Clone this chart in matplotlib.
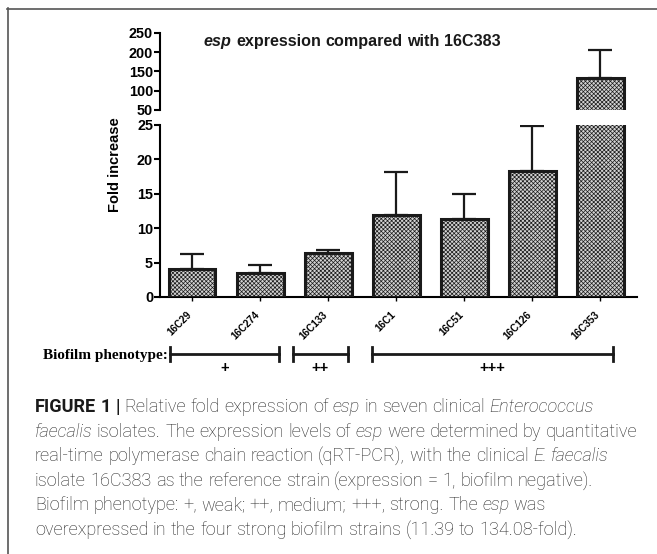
import numpy as np
import matplotlib
matplotlib.use("Agg")
import matplotlib.pyplot as plt
from matplotlib.lines import Line2D
from matplotlib.transforms import offset_copy

# data
strains = ["16C29", "16C274", "16C133", "16C1", "16C51", "16C126", "16C353"]
fold = [4.03, 3.55, 6.35, 11.85, 11.39, 18.25, 134.08]
err_up = [2.25, 1.05, 0.55, 6.35, 3.6, 6.65, 72.5]
groups = ["+", "++", "+++"]

W, H = 657, 554
plt.rcParams["hatch.color"] = "#404040"
plt.rcParams["hatch.linewidth"] = 0.5
fig = plt.figure(figsize=(W / 100, H / 100), dpi=100)
SANS = "Liberation Sans"


def fx(px):
    return px / W


def fy(py):
    return 1 - py / H


# two stacked axes make the broken y axis
ax_top = fig.add_axes([fx(160), fy(110), 477 / W, 77 / H])
ax_bot = fig.add_axes([fx(160), fy(297), 477 / W, 172 / H])

x = np.arange(len(strains))
for ax in (ax_top, ax_bot):
    ax.bar(x, fold, width=0.69, facecolor="#d2d2d2", edgecolor="#1a1a1a",
           linewidth=2.2, hatch="xxxxxxxx", zorder=3)
    ax.errorbar(x, fold, yerr=[np.zeros(len(fold)), err_up], fmt="none",
                ecolor="#1a1a1a", elinewidth=1.6, capsize=8.6, capthick=1.6,
                zorder=2)
    ax.set_xlim(-0.47, 6.54)
    for s in ("top", "right"):
        ax.spines[s].set_visible(False)
    ax.spines["left"].set_linewidth(1.5)
    ax.tick_params(axis="y", length=4, width=1.5, pad=1, labelsize=10.4)

ax_top.set_ylim(50, 250)
ax_top.set_yticks([50, 100, 150, 200, 250])
ax_top.spines["bottom"].set_visible(False)
ax_top.set_xticks([])

ax_bot.set_ylim(0, 25)
ax_bot.set_yticks([0, 5, 10, 15, 20, 25])
ax_bot.spines["bottom"].set_linewidth(1.5)
ax_bot.set_xticks(x)
ax_bot.set_xticklabels([])
ax_bot.tick_params(axis="x", length=3, width=1)

for ax in (ax_top, ax_bot):
    for lab in ax.get_yticklabels():
        lab.set_fontweight("bold")
        lab.set_family(SANS)

# rotated strain names
lab_tr = offset_copy(ax_bot.get_xaxis_transform(), fig=fig, x=-2, y=-16, units="dots")
for xi, name in zip(x, strains):
    ax_bot.text(xi, 0, name, transform=lab_tr, rotation=45, rotation_mode="anchor",
                ha="right", va="center", fontsize=7.2, fontweight="bold", family=SANS)

fig.text(fx(115), fy(165), "Fold increase", rotation=90, ha="center", va="center",
         fontsize=10.5, fontweight="bold", family=SANS)

renderer = fig.canvas.get_renderer()


def space_width(**kw):
    a = fig.text(0, 0, "a a", **kw)
    b = fig.text(0, 0, "aa", **kw)
    w = a.get_window_extent(renderer).width - b.get_window_extent(renderer).width
    a.remove()
    b.remove()
    return w


def draw_words(x0, ybase, line, base, styles):
    xp = x0
    for word in line.split(" "):
        kw = dict(base)
        if word.startswith("_") and word.endswith("_") and len(word) > 1:
            word = word[1:-1]
            kw.update(styles["i"])
        elif word.startswith("*") and word.endswith("*") and len(word) > 1:
            word = word[1:-1]
            kw.update(styles["b"])
        t = fig.text(fx(xp), fy(ybase), word, va="baseline", ha="left", **kw)
        xp += t.get_window_extent(renderer).width + space_width(**kw)


# chart title
draw_words(204, 46, "_esp_ expression compared with 16C383",
           dict(family=SANS, fontsize=11.6, fontweight="bold", color="#1a1a1a"),
           {"i": dict(style="italic"), "b": {}})

# biofilm phenotype brackets
fig.text(fx(43), fy(356), "Biofilm phenotype:", ha="left", va="center",
         family="Liberation Serif", fontweight="bold", fontsize=11)
spans = [(170, 279), (293, 348), (372, 613)]
for (x0, x1), g in zip(spans, groups):
    fig.add_artist(Line2D([fx(x0), fx(x1)], [fy(354), fy(354)], color="#1a1a1a", lw=2))
    for xe in (x0, x1):
        fig.add_artist(Line2D([fx(xe), fx(xe)], [fy(347), fy(361)], color="#1a1a1a", lw=2))
    fig.text(fx((x0 + x1) / 2), fy(368), g, ha="center", va="center",
             family=SANS, fontweight="bold", fontsize=10.5)

# caption
caption = [
    "*FIGURE* *1* *|* Relative fold expression of _esp_ in seven clinical _Enterococcus_",
    "_faecalis_ isolates. The expression levels of _esp_ were determined by quantitative",
    "real-time polymerase chain reaction (qRT-PCR), with the clinical _E._ _faecalis_",
    "isolate 16C383 as the reference strain (expression = 1, biofilm negative).",
    "Biofilm phenotype: +, weak; ++, medium; +++, strong. The _esp_ was",
    "overexpressed in the four strong biofilm strains (11.39 to 134.08-fold).",
]
cap_base = dict(family="Roboto", fontweight="light", fontsize=13.1, color="#262626")
cap_styles = {"i": dict(style="italic"), "b": dict(fontweight="bold", color="#1a1a1a")}
for i, line in enumerate(caption):
    draw_words(35, 412 + i * 24.6, line, cap_base, cap_styles)

# light frame around the figure panel
fig.add_artist(Line2D([fx(7), 1], [fy(8.5), fy(8.5)], color="#555555", lw=1.2))
fig.add_artist(Line2D([fx(7.5), fx(7.5)], [fy(8), 0], color="#555555", lw=1.2))

fig.savefig("out.png", dpi=100)
